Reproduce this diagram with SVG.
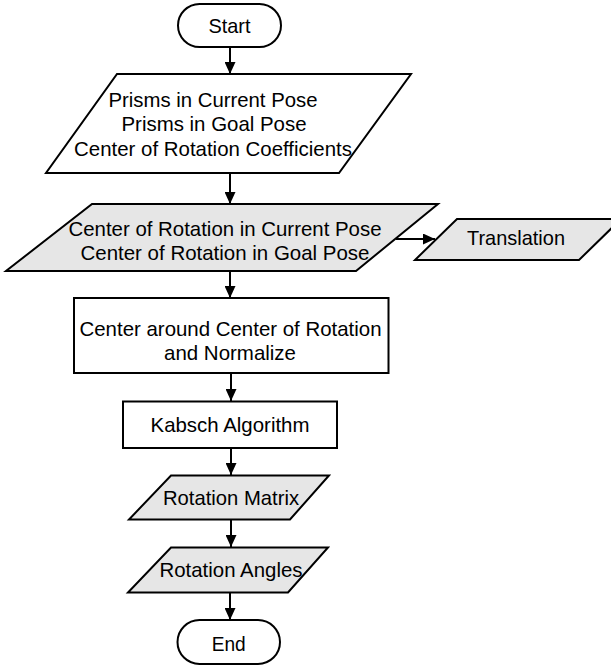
<svg xmlns="http://www.w3.org/2000/svg" width="611" height="668" viewBox="0 0 611 668">
<style>
.s{fill:#ffffff;stroke:#000;stroke-width:2}
.g{fill:#e6e6e6;stroke:#000;stroke-width:2}
.t{font-family:"Liberation Sans",Arial,sans-serif;font-size:20.4px;fill:#000;text-anchor:middle}
.c{stroke:#000;stroke-width:2;fill:none;marker-end:url(#ah)}
</style>
<defs>
<marker id="ah" markerUnits="userSpaceOnUse" markerWidth="12" markerHeight="11" refX="12" refY="5.5" orient="auto">
<path d="M0,0 L12,5.5 L0,11 z" fill="#000"/>
</marker>
</defs>
<rect width="611" height="668" fill="#fff"/>
<g id="connectors">
<line class="c" x1="230" y1="47" x2="230" y2="74"/>
<line class="c" x1="230" y1="173" x2="230" y2="204"/>
<line class="c" x1="230" y1="271" x2="230" y2="298"/>
<line class="c" x1="231" y1="373" x2="231" y2="401"/>
<line class="c" x1="231" y1="448" x2="231" y2="475"/>
<line class="c" x1="231" y1="519" x2="231" y2="547"/>
<line class="c" x1="230" y1="593" x2="230" y2="620"/>
<line class="c" x1="396" y1="239" x2="435" y2="239"/>
</g>
<g id="start">
<rect class="s" x="178" y="4" width="103" height="43" rx="21.5"/>
<text class="t" x="229.5" y="33.2" textLength="42" lengthAdjust="spacingAndGlyphs">Start</text>
</g>
<g id="inputs">
<polygon class="s" points="117,74 411,74 339,173 46,173"/>
<text class="t" x="213" y="107" textLength="209" lengthAdjust="spacingAndGlyphs">Prisms in Current Pose</text>
<text class="t" x="214" y="131" textLength="185" lengthAdjust="spacingAndGlyphs">Prisms in Goal Pose</text>
<text class="t" x="213" y="155.5" textLength="278" lengthAdjust="spacingAndGlyphs">Center of Rotation Coefficients</text>
</g>
<g id="cor">
<polygon class="g" points="92,204 438,204 356,271 6,271"/>
<text class="t" x="225" y="235.5" textLength="313" lengthAdjust="spacingAndGlyphs">Center of Rotation in Current Pose</text>
<text class="t" x="225" y="259.5" textLength="289" lengthAdjust="spacingAndGlyphs">Center of Rotation in Goal Pose</text>
</g>
<g id="translation">
<polygon class="g" points="457,219 621,219 579,260 415,260"/>
<text class="t" x="516" y="245" textLength="98" lengthAdjust="spacingAndGlyphs">Translation</text>
</g>
<g id="center">
<rect class="s" x="74" y="298" width="314.5" height="75"/>
<text class="t" x="230.5" y="335.5" textLength="302" lengthAdjust="spacingAndGlyphs">Center around Center of Rotation</text>
<text class="t" x="230" y="359.5" textLength="132" lengthAdjust="spacingAndGlyphs">and Normalize</text>
</g>
<g id="kabsch">
<rect class="s" x="123" y="401.5" width="214" height="46.5"/>
<text class="t" x="230" y="432" textLength="159" lengthAdjust="spacingAndGlyphs">Kabsch Algorithm</text>
</g>
<g id="matrix">
<polygon class="g" points="171,475.5 329,475.5 290,519.5 129,519.5"/>
<text class="t" x="231" y="504.5" textLength="136" lengthAdjust="spacingAndGlyphs">Rotation Matrix</text>
</g>
<g id="angles">
<polygon class="g" points="171,547.5 328,547.5 288,592.5 128,592.5"/>
<text class="t" x="231" y="577" textLength="143" lengthAdjust="spacingAndGlyphs">Rotation Angles</text>
</g>
<g id="end">
<rect class="s" x="177.5" y="620" width="102.5" height="44" rx="22"/>
<text class="t" x="228.7" y="650.5" textLength="34" lengthAdjust="spacingAndGlyphs">End</text>
</g>
</svg>
